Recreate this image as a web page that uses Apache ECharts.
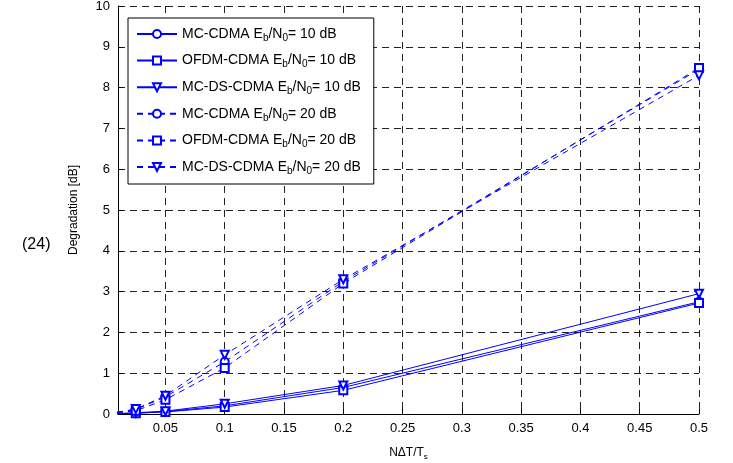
<!DOCTYPE html>
<html>
<head>
<meta charset="UTF-8">
<title></title>
<style>html,body{margin:0;padding:0;background:#fff;}</style>
</head>
<body>
<div id="main" style="width:733px;height:463px"></div>
<script src="https://cdn.jsdelivr.net/npm/echarts@6/dist/echarts.min.js"></script>
<script>
// x positions (N dT / Ts) and degradation in dB
var xValues = [0, 0.025, 0.05, 0.1, 0.2, 0.5];
var mcCdma10 = [0, 0.02, 0.06, 0.2, 0.65, 2.75];
var ofdmCdma10 = [0, 0.02, 0.05, 0.17, 0.58, 2.72];
var mcDsCdma10 = [0, 0.03, 0.07, 0.25, 0.7, 2.95];
var mcCdma20 = [0, 0.11, 0.42, 1.28, 3.25, 8.45];
var ofdmCdma20 = [0, 0.08, 0.35, 1.13, 3.2, 8.48];
var mcDsCdma20 = [0, 0.12, 0.45, 1.45, 3.3, 8.3];

var font = 'Liberation Sans, Arial, Helvetica, sans-serif';
var blue = '#0000ff';

function pairs(ys) {
	var out = [];
	for(var i = 0; i < xValues.length; i++) {
		out.push([xValues[i], ys[i]]);
	}
	return out;
}

function makeSeries(name, ys, symbol, dashed) {
	return {
		name: name,
		type: 'line',
		data: pairs(ys),
		symbol: symbol,
		symbolSize: 8,
		symbolRotate: symbol == 'emptyTriangle' ? 180 : 0,
		clip: true,
		itemStyle: { color: blue, borderWidth: 1 },
		lineStyle: { color: blue, width: 1, type: dashed ? [6, 5] : 'solid' },
		animation: false
	};
}

var app = echarts.init(document.getElementById('main'));
var option = {
	backgroundColor: '#fff',
	textStyle: { fontFamily: font },
	grid: { left: 118, right: 34, top: 6, bottom: 49, outerBoundsMode: 'none', containLabel: false },
	graphic: [{
		type: 'text',
		left: 22,
		top: 237,
		style: { text: '(24)', font: '16px ' + font, fill: '#000' }
	}],
	legend: {
		orient: 'vertical',
		left: 128,
		top: 18,
		padding: [7, 13, 8, 8],
		itemWidth: 40,
		itemHeight: 10,
		itemGap: 8.6,
		backgroundColor: '#fff',
		borderColor: '#000',
		borderWidth: 1,
		borderRadius: 0,
		formatter: function(name) {
			var p = name.split('|');
			return p[0] + ' E{sub|b}/N{sub|0}= ' + p[1] + ' dB';
		},
		textStyle: {
			fontFamily: font,
			fontSize: 14,
			color: '#000',
			lineHeight: 18,
			rich: {
				sub: { fontFamily: font, fontSize: 10, color: '#000', verticalAlign: 'bottom', lineHeight: 10 }
			}
		}
	},
	xAxis: {
		type: 'value',
		min: 0.01,
		max: 0.5,
		splitNumber: 10,
		name: 'N\u0394T/T{sub|s}',
		nameLocation: 'middle',
		nameGap: 31,
		nameTextStyle: {
			fontFamily: font,
			fontSize: 12,
			color: '#000',
			lineHeight: 16,
			rich: { sub: { fontFamily: font, fontSize: 8, color: '#000', verticalAlign: 'bottom', lineHeight: 8 } }
		},
		axisLine: { lineStyle: { color: '#000', width: 1 } },
		axisTick: { inside: true, length: 5, lineStyle: { color: '#000' } },
		axisLabel: { showMinLabel: false, color: '#000', fontSize: 13, margin: 8, fontFamily: font },
		splitLine: { show: true, lineStyle: { color: '#222', type: [7, 5], width: 1 } }
	},
	yAxis: {
		type: 'value',
		min: 0,
		max: 10,
		interval: 1,
		name: 'Degradation [dB]',
		nameLocation: 'middle',
		nameGap: 38,
		nameTextStyle: { fontFamily: font, fontSize: 12, color: '#000' },
		axisLine: { show: true, lineStyle: { color: '#000', width: 1 } },
		axisTick: { show: true, inside: true, length: 5, lineStyle: { color: '#000' } },
		axisLabel: { color: '#000', fontSize: 13, margin: 8, fontFamily: font },
		splitLine: { show: true, lineStyle: { color: '#222', type: [7, 5], width: 1 } }
	},
	series: [
		makeSeries('MC-CDMA|10', mcCdma10, 'emptyCircle', false),
		makeSeries('OFDM-CDMA|10', ofdmCdma10, 'emptyRect', false),
		makeSeries('MC-DS-CDMA|10', mcDsCdma10, 'emptyTriangle', false),
		makeSeries('MC-CDMA|20', mcCdma20, 'emptyCircle', true),
		makeSeries('OFDM-CDMA|20', ofdmCdma20, 'emptyRect', true),
		makeSeries('MC-DS-CDMA|20', mcDsCdma20, 'emptyTriangle', true)
	]
};
app.setOption(option);
</script>
</body>
</html>
